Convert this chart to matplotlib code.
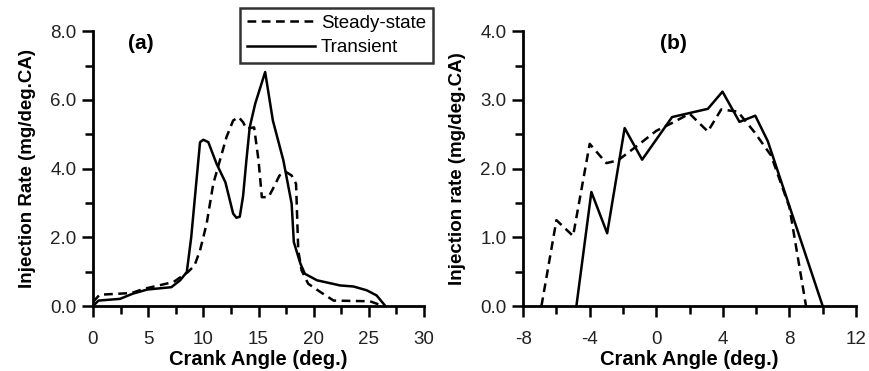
import matplotlib
matplotlib.use("Agg")
import matplotlib.pyplot as plt
from matplotlib.ticker import MultipleLocator, FormatStrFormatter

plt.rcParams['font.family'] = ['Liberation Sans', 'DejaVu Sans']
plt.rcParams['axes.unicode_minus'] = False

# panel (a): injection rate vs crank angle
a_steady_x = [0, 0.6, 3.5, 4.6, 7.3, 8.6, 9.2, 9.7, 10.3, 10.9, 11.5, 12.1, 12.7, 13.2,
              13.6, 13.9, 14.6, 15.0, 15.3, 15.9, 16.3, 16.9, 17.5, 18.0, 18.4, 18.6,
              18.9, 19.5, 20.6, 21.8, 25.1, 26.3]
a_steady_y = [0.12, 0.33, 0.38, 0.5, 0.7, 0.99, 1.18, 1.62, 2.4, 3.56, 4.24, 4.92, 5.4, 5.5,
              5.35, 5.16, 5.2, 4.24, 3.17, 3.17, 3.41, 3.8, 3.9, 3.8, 3.56, 1.62,
              1.04, 0.65, 0.41, 0.16, 0.14, 0.0]
a_trans_x = [0, 0.5, 2.45, 3.6, 4.9, 7.1, 7.9, 8.5, 8.9, 9.7, 10.0, 10.45, 11.2, 12.0, 12.7,
             13.0, 13.3, 13.6, 13.9, 14.2, 14.7, 15.6, 16.3, 17.25, 18.0, 18.2, 18.8, 19.2,
             20.3, 22.4, 23.6, 24.8, 25.7, 26.5]
a_trans_y = [0.0, 0.16, 0.21, 0.36, 0.48, 0.55, 0.75, 0.99, 2.0, 4.77, 4.84, 4.77, 4.14, 3.6,
             2.69, 2.57, 2.6, 3.2, 4.24, 5.2, 5.89, 6.81, 5.4, 4.24, 2.98, 1.86, 1.23, 0.94,
             0.75, 0.6, 0.57, 0.46, 0.31, 0.0]

# panel (b)
b_steady_x = [-6.9, -6.0, -5.0, -4.0, -3.0, -2.3, -1.0, 0.0, 1.0, 2.0, 3.1, 3.9, 4.9, 5.9,
              6.9, 8.0, 9.0]
b_steady_y = [0.0, 1.25, 1.02, 2.36, 2.08, 2.12, 2.36, 2.55, 2.67, 2.8, 2.54, 2.86, 2.83,
              2.53, 2.19, 1.44, 0.0]
b_trans_x = [-4.8, -3.9, -2.95, -1.9, -0.85, 0.95, 3.1, 3.98, 5.0, 5.95, 6.7, 10.0]
b_trans_y = [0.0, 1.66, 1.06, 2.59, 2.13, 2.75, 2.87, 3.12, 2.68, 2.77, 2.4, 0.0]

fig = plt.figure(figsize=(8.69, 3.71), dpi=100)
ax1 = fig.add_axes([0.107, 0.175, 0.381, 0.741])
ax2 = fig.add_axes([0.602, 0.175, 0.383, 0.741])

dash = (0, (3.5, 2.2))
lw = 1.8

l1, = ax1.plot(a_steady_x, a_steady_y, color='black', lw=lw, linestyle=dash, label='Steady-state')
l2, = ax1.plot(a_trans_x, a_trans_y, color='black', lw=lw, label='Transient')
ax2.plot(b_steady_x, b_steady_y, color='black', lw=lw, linestyle=dash)
ax2.plot(b_trans_x, b_trans_y, color='black', lw=lw)

ax1.set_xlim(0, 30)
ax1.set_ylim(0, 8)
ax1.xaxis.set_major_locator(MultipleLocator(5))
ax1.xaxis.set_minor_locator(MultipleLocator(2.5))
ax1.yaxis.set_major_locator(MultipleLocator(2))
ax1.yaxis.set_minor_locator(MultipleLocator(1))

ax2.set_xlim(-8, 12)
ax2.set_ylim(0, 4)
ax2.xaxis.set_major_locator(MultipleLocator(4))
ax2.xaxis.set_minor_locator(MultipleLocator(2))
ax2.yaxis.set_major_locator(MultipleLocator(1))
ax2.yaxis.set_minor_locator(MultipleLocator(0.5))

for ax in (ax1, ax2):
    ax.spines['top'].set_visible(False)
    ax.spines['right'].set_visible(False)
    ax.spines['left'].set_linewidth(2)
    ax.spines['bottom'].set_linewidth(2)
    ax.yaxis.set_major_formatter(FormatStrFormatter('%.1f'))
    ax.tick_params(which='major', length=8, width=1.8, labelsize=13.5,
                   labelcolor='#222222')
    ax.tick_params(axis='x', which='major', pad=10)
    ax.tick_params(axis='y', which='major', pad=4)
    ax.tick_params(which='minor', length=6, width=1.8)
    ax.set_xlabel('Crank Angle (deg.)', fontsize=14.5, fontweight='bold', labelpad=1.5)

ax1.set_ylabel('Injection Rate (mg/deg.CA)', fontsize=13.5, fontweight='bold', labelpad=10)
ax2.set_ylabel('Injection rate (mg/deg.CA)', fontsize=13.5, fontweight='bold', labelpad=10)

ax1.text(0.145, 0.956, '(a)', transform=ax1.transAxes, fontsize=15, fontweight='bold',
         ha='center', va='center')
ax2.text(0.453, 0.956, '(b)', transform=ax2.transAxes, fontsize=15, fontweight='bold',
         ha='center', va='center')

leg = fig.legend(handles=[l1, l2], loc='upper right', bbox_to_anchor=(0.498, 0.978),
                 fontsize=13.5, frameon=True, fancybox=False, handlelength=3.6,
                 borderpad=0.35, labelspacing=0.38, handletextpad=0.35, borderaxespad=0)
leg.get_frame().set_edgecolor('black')
leg.get_frame().set_linewidth(1.8)

fig.savefig('out.png', dpi=100)
